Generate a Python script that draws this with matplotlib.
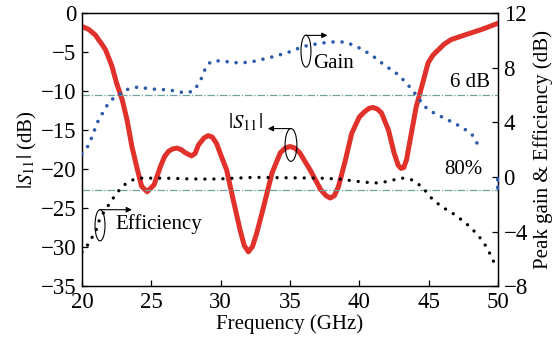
import numpy as np
import matplotlib
matplotlib.use("Agg")
import matplotlib.pyplot as plt
from matplotlib.patches import Ellipse

plt.rcParams['font.family'] = ['Liberation Serif', 'DejaVu Serif']
plt.rcParams['mathtext.fontset'] = 'stix'
plt.rcParams['axes.unicode_minus'] = True

# |S11| (dB), left axis
s11_f = [20.0, 20.5, 20.96, 21.4, 21.7, 22.16, 22.5, 22.9, 23.25, 23.6, 24.0, 24.3,
         24.7, 25.2, 25.65, 25.95, 26.25, 26.55, 26.85, 27.15, 27.45, 27.9, 28.15,
         28.4, 28.8, 29.1, 29.4, 29.7, 30.1, 30.43, 30.9, 31.4, 31.7, 32.0, 32.3,
         32.6, 33.1, 33.7, 34.3, 34.65, 35.0, 35.35, 35.7, 36.45, 37.2, 37.6, 37.9,
         38.2, 38.5, 39.0, 39.45, 40.0, 40.4, 40.7, 41.0, 41.3, 41.6, 42.1, 42.5,
         42.8, 43.0, 43.2, 43.4, 43.75, 44.1, 44.5, 44.95, 45.3, 45.7, 46.1, 46.6,
         47.6, 48.8, 50.0]
s11 = [-1.7, -2.1, -2.8, -3.9, -4.7, -6.8, -9.0, -11.1, -13.7, -17.1, -20.1, -22.2,
       -22.9, -22.0, -19.7, -18.4, -17.7, -17.4, -17.3, -17.5, -17.9, -18.3, -18.0,
       -16.9, -16.0, -15.7, -15.9, -16.7, -18.6, -20.1, -23.9, -27.8, -29.8, -30.6, -29.9,
       -28.2, -24.8, -20.5, -17.9, -17.3, -17.1, -17.3, -17.9, -20.1, -22.6, -23.4, -23.7,
       -23.4, -22.2, -18.8, -15.4, -13.3, -12.6, -12.2, -12.1, -12.3, -12.8, -15.0, -17.9,
       -19.5, -19.9, -19.8, -18.8, -15.4, -12.0, -9.4, -6.4, -5.4, -4.7, -4.0, -3.4,
       -2.8, -2.1, -1.3]

# peak gain (dB), right axis
gain_f = [20.0, 20.5, 20.85, 21.2, 21.56, 21.9, 22.3, 22.65, 23.0, 23.6, 24.1,
          24.6, 25.5, 26.1, 26.7, 27.2, 27.7, 28.1, 28.37, 28.6, 28.8, 29.0,
          29.4, 29.95, 31.4, 32.35, 33.56, 34.8, 35.96, 37.2, 38.4, 39.1, 39.9,
          40.86, 41.8, 42.8, 43.5, 44.1, 44.7, 45.4, 46.15, 47.1, 48.07, 48.7]
gain = [1.7, 2.35, 3.3, 4.2, 4.8, 5.4, 5.8, 6.0, 6.33, 6.5, 6.6,
        6.5, 6.4, 6.4, 6.3, 6.2, 6.2, 6.33, 6.8, 7.2, 7.7, 8.2,
        8.5, 8.5, 8.34, 8.46, 8.75, 9.1, 9.56, 9.8, 9.92, 9.85, 9.5,
        8.95, 8.2, 7.5, 6.75, 6.0, 5.16, 4.67, 4.3, 3.8, 3.2, 2.1]
gain_tail_f = [50.0, 50.0]
gain_tail = [-0.15, -0.75]

# efficiency (dB), right axis
eff_f = [20.0, 20.24, 20.6, 20.96, 21.3, 21.7, 22.16, 22.5, 22.9, 23.4, 23.85,
         24.3, 26.0, 27.7, 29.1, 29.95, 32.35, 34.8, 37.2, 38.5, 39.9, 41.1,
         42.06, 43.0, 43.75, 44.5, 45.2, 45.9, 46.9, 47.8, 48.55, 49.15, 49.5, 49.9]
eff = [-5.5, -5.3, -4.6, -4.1, -3.0, -2.4, -1.68, -1.2, -0.7, -0.33, -0.14,
       -0.09, -0.09, -0.14, -0.16, -0.14, -0.03, -0.06, -0.09, -0.15, -0.33, -0.45,
       -0.33, -0.07, -0.2, -0.7, -1.55, -2.16, -2.77, -3.5, -4.24, -5.1, -5.8, -6.7]

ref_gain = 6
ref_eff = 10 * np.log10(0.8)

fig = plt.figure(figsize=(5.54, 3.46), dpi=100)
ax = fig.add_axes([0.148, 0.173, 0.751, 0.789])
ax2 = ax.twinx()

ax.plot(s11_f, s11, color='#e0312b', lw=3.6, solid_joinstyle='round', zorder=3)

ax2.plot(gain_f, gain, color='#2c5aa8', lw=2.6, linestyle=(0, (0.01, 2.5)),
         dash_capstyle='round', zorder=4)
ax2.plot(gain_tail_f, gain_tail, 'o', color='#2c5aa8', ms=2.6, zorder=4)
ax2.plot(eff_f, eff, color='k', lw=2.4, linestyle=(0, (0.01, 2.7)),
         dash_capstyle='round', zorder=4)
ax2.axhline(ref_gain, color='#6fa39c', lw=0.9, linestyle=(0, (6, 1.5, 1, 1.5)), zorder=1)
ax2.axhline(ref_eff, color='#6fa39c', lw=0.9, linestyle=(0, (6, 1.5, 1, 1.5)), zorder=1)

ax.set_xlim(20, 50)
ax.set_ylim(-35, 0)
ax2.set_ylim(-8, 12)
ax.set_xticks(np.arange(20, 51, 5))
ax.set_yticks(np.arange(-35, 1, 5))
ax2.set_yticks(np.arange(-8, 13, 4))

fs = 15
for a in (ax, ax2):
    a.tick_params(direction='in', length=4, width=0.9, labelsize=16.5, pad=4)
    for s in a.spines.values():
        s.set_linewidth(0.9)

ax.set_xlabel('Frequency (GHz)', fontsize=fs, labelpad=1)
ax.set_ylabel(r'$|S_{11}|$ (dB)', fontsize=fs, labelpad=1)
ax2.set_ylabel('Peak gain & Efficiency (dB)', fontsize=fs, labelpad=4)

# annotations
ax.text(36.65, -6.5, 'Gain', fontsize=fs, va='center', ha='left')
ax.text(31.75, -14.0, r'$|S_{11}|$', fontsize=fs, va='center', ha='center')
ax.text(22.38, -27.05, 'Efficiency', fontsize=fs, va='center', ha='left')
ax.text(49.4, -10.15, '6 dB', fontsize=fs, va='bottom', ha='right')
ax.text(48.9, -21.3, '80%', fontsize=fs, va='bottom', ha='right')

ells = [(36.15, -4.87, 0.72, 4.1), (35.07, -16.9, 0.85, 4.2), (21.3, -27.2, 0.72, 4.0)]
for cx, cy, w, h in ells:
    ax.add_patch(Ellipse((cx, cy), w, h, fill=False, lw=0.8, ec='k', zorder=5))

arr = dict(arrowstyle='-|>', lw=0.8, color='k', mutation_scale=8, shrinkA=0, shrinkB=0)
ax.annotate('', xy=(37.7, -2.85), xytext=(36.15, -2.85), arrowprops=arr)
ax.annotate('', xy=(33.4, -14.8), xytext=(35.07, -14.8), arrowprops=arr)
ax.annotate('', xy=(23.6, -25.2), xytext=(21.3, -25.2), arrowprops=arr)

fig.savefig('out.png', dpi=100)
